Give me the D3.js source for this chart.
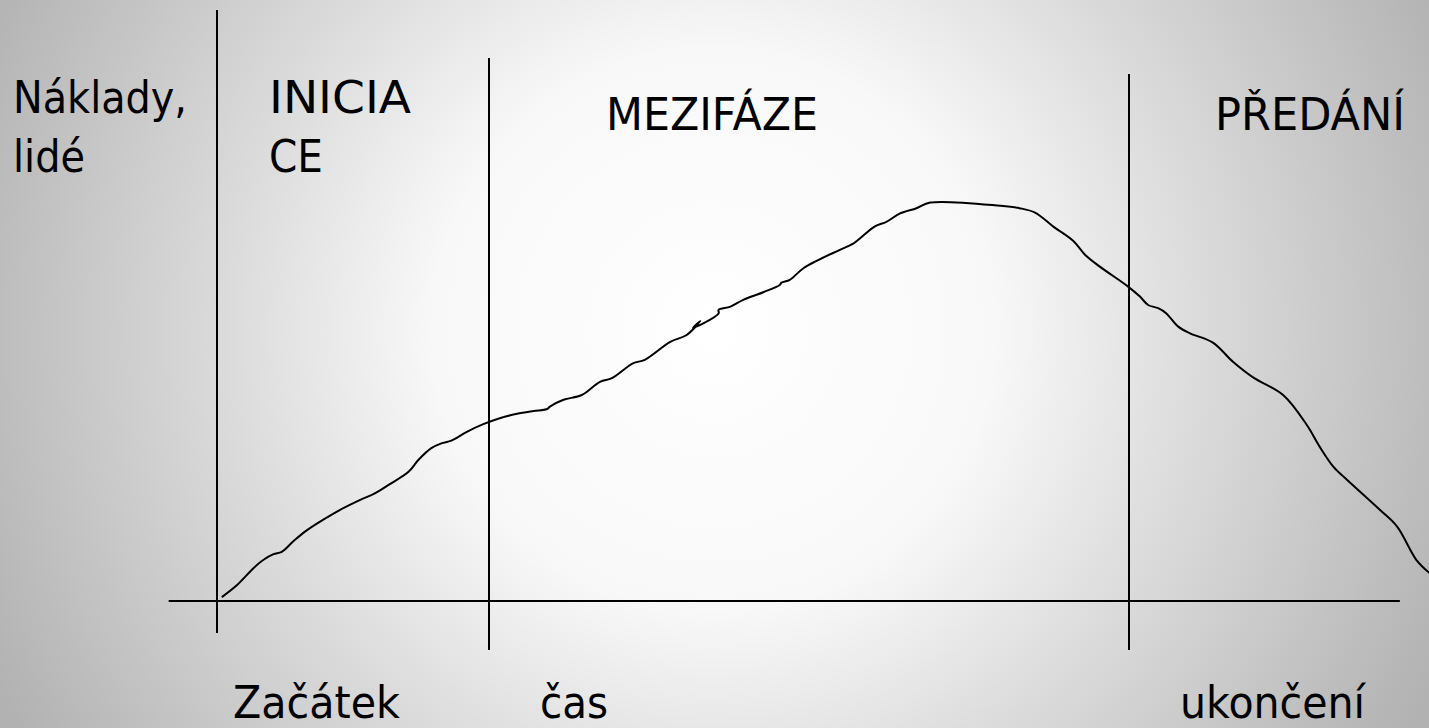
<!DOCTYPE html>
<html>
<head>
<meta charset="utf-8">
<script src="https://cdn.jsdelivr.net/npm/d3@7"></script>
<style>
  html, body { margin: 0; padding: 0; overflow: hidden; }
  svg { display: block; font-family: "DejaVu Sans", Tahoma, Verdana, sans-serif; }
</style>
</head>
<body>
<div id="chart"></div>
<script>
// time in % of the project (0 = začátek, 100 = ukončení), cost in arbitrary units
const time = [0.6, 2.2, 4.0, 5.1, 6.2, 7.1, 8.4, 9.8, 11.7, 13.5, 15.7, 17.3, 19.0, 21.0, 22.1, 23.5,
  24.6, 25.7, 27.4, 29.2, 31.0, 32.9, 34.7, 36.2, 36.5, 38.0, 40.0, 42.0, 43.3, 45.6, 46.9, 49.7,
  51.5, 53.0, 52.2, 55.0, 55.0, 56.3, 57.7, 59.9, 61.7, 61.9, 62.8, 64.3, 65.8, 68.3, 69.8, 72.1,
  73.4, 74.9, 76.7, 78.2, 85.9, 88.0, 89.7, 91.7, 93.9, 95.2, 96.8, 99.9, 101.2, 102.1, 103.2, 104.1,
  105.4, 106.7, 109.2, 111.4, 113.6, 116.9, 119.5, 120.9, 122.4, 123.9, 127.5, 129.4, 131.5, 132.9];
const cost = [1.1, 4.0, 8.2, 10.3, 11.7, 12.3, 15.0, 17.6, 20.4, 22.8, 25.3, 26.9, 29.3, 32.3, 35.3, 38.2,
  39.4, 40.1, 42.3, 44.2, 45.7, 46.8, 47.5, 48.0, 48.6, 50.3, 51.5, 54.8, 55.7, 59.4, 60.3, 64.8,
  66.5, 70.0, 68.3, 71.9, 72.8, 73.6, 75.3, 77.2, 79.0, 79.6, 80.3, 83.2, 85.1, 87.8, 89.4, 93.6,
  94.8, 96.9, 98.2, 99.6, 98.8, 98.2, 97.1, 93.6, 90.0, 86.5, 83.6, 78.6, 76.1, 74.0, 73.2, 71.9,
  68.6, 66.9, 64.6, 59.8, 55.9, 51.5, 44.0, 38.6, 33.6, 30.3, 22.8, 18.6, 10.3, 7.1];

const phaseBounds = [0, 29.8, 100];
const phaseNames = [['INICIA', 'CE'], ['MEZIFÁZE'], ['PŘEDÁNÍ']];
const yTitle = ['Náklady,', 'lidé'];
const xLabels = ['Začátek', 'čas', 'ukončení'];
const axisExtent = [-5.3, 129.7];

const width = 1429, height = 728;

// layout (pixels)
const layout = {
  xRange: [217, 1129],
  yRange: [601, 201],
  boundTop: [10, 58, 74],
  boundBottom: [633, 650, 650],
  fontSize: 45,
  lineGap: 59
};

const svg = d3.select('#chart')
  .append('svg')
  .attr('width', width)
  .attr('height', height);

// background: radial gradient, light centre
const grad = svg.append('defs')
  .append('radialGradient')
  .attr('id', 'bg')
  .attr('gradientUnits', 'userSpaceOnUse')
  .attr('cx', 714).attr('cy', 330).attr('r', 800);
[[0, '#ffffff'], [0.35, '#f8f8f8'], [0.6, '#dcdcdc'], [1, '#b2b2b2']].forEach(([o, c]) => {
  grad.append('stop').attr('offset', o).attr('stop-color', c);
});
svg.append('rect').attr('width', width).attr('height', height).attr('fill', 'url(#bg)');

const xScale = d3.scaleLinear().domain([0, 100]).range(layout.xRange);
const yScale = d3.scaleLinear().domain([0, 100]).range(layout.yRange);

// time axis
svg.append('line')
  .attr('x1', xScale(axisExtent[0]))
  .attr('x2', xScale(axisExtent[1]))
  .attr('y1', yScale(0))
  .attr('y2', yScale(0))
  .attr('stroke', '#000')
  .attr('stroke-width', 2);

// phase boundaries
svg.selectAll('.bound')
  .data(phaseBounds)
  .enter()
  .append('line')
  .attr('class', 'bound')
  .attr('x1', d => Math.round(xScale(d)))
  .attr('x2', d => Math.round(xScale(d)))
  .attr('y1', (d, i) => layout.boundTop[i])
  .attr('y2', (d, i) => layout.boundBottom[i])
  .attr('stroke', '#000')
  .attr('stroke-width', 2);

// the hand-drawn curve
const points = time.map((t, i) => ({ t: t, c: cost[i] }));
const line = d3.line()
  .x(d => xScale(d.t))
  .y(d => yScale(d.c))
  .curve(d3.curveCatmullRom.alpha(0.5));

svg.append('path')
  .datum(points)
  .attr('d', line)
  .attr('fill', 'none')
  .attr('stroke', '#000')
  .attr('stroke-width', 2)
  .attr('stroke-linejoin', 'round')
  .attr('stroke-linecap', 'round');

// texts
const labels = [
  { lines: yTitle, x: 13, y: 113, w: [174, 72] },
  { lines: phaseNames[0], x: 269, y: 113, w: [142, 54] },
  { lines: phaseNames[1], x: 606, y: 130, w: [212] },
  { lines: phaseNames[2], x: 1215, y: 130, w: [190] },
  { lines: [xLabels[0]], x: 233, y: 718, w: [167] },
  { lines: [xLabels[1]], x: 540, y: 718, w: [68] },
  { lines: [xLabels[2]], x: 1180, y: 718, w: [185] }
];

labels.forEach(lab => {
  lab.lines.forEach((txt, i) => {
    svg.append('text')
      .attr('x', lab.x)
      .attr('y', lab.y + i * layout.lineGap)
      .attr('font-size', layout.fontSize)
      .attr('fill', '#000')
      .attr('textLength', lab.w[i])
      .attr('lengthAdjust', 'spacingAndGlyphs')
      .text(txt);
  });
});
</script>
</body>
</html>
